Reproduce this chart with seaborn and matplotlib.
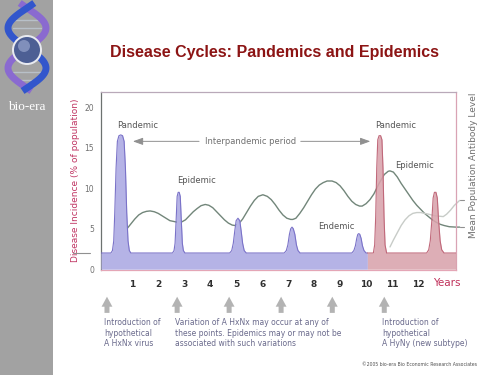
import numpy as np
import matplotlib
matplotlib.use("Agg")
import matplotlib.pyplot as plt
from matplotlib.patches import Rectangle, Circle
import seaborn as sns

# ---- data ----
blue_x = [-0.2, 0.18, 0.24, 0.29, 0.33, 0.38, 0.43, 0.49, 0.56, 0.63, 0.69, 0.74, 0.79, 0.84, 0.89, 0.95,
          2.55, 2.61, 2.65, 2.69, 2.73, 2.77, 2.81, 2.85, 2.89, 2.93, 2.97, 3.03,
          4.75, 4.83, 4.89, 4.95, 5.00, 5.07, 5.14, 5.19, 5.25, 5.31, 5.39,
          6.85, 6.93, 6.99, 7.05, 7.10, 7.15, 7.20, 7.26, 7.32, 7.38, 7.46,
          9.45, 9.53, 9.59, 9.64, 9.68, 9.72, 9.76, 9.81, 9.86, 9.92, 10.0, 10.05]
blue_y = [2.0, 2.0, 2.3, 3.5, 7.0, 12.5, 15.8, 16.5, 16.6, 16.5, 15.8, 12.5, 7.0, 3.5, 2.3, 2.0,
          2.0, 2.3, 3.2, 6.0, 9.0, 9.5, 9.5, 9.0, 6.0, 3.2, 2.3, 2.0,
          2.0, 2.3, 3.2, 4.8, 6.0, 6.3, 6.0, 4.8, 3.2, 2.3, 2.0,
          2.0, 2.3, 3.0, 4.3, 5.0, 5.2, 5.0, 4.3, 3.0, 2.3, 2.0,
          2.0, 2.3, 2.9, 3.8, 4.3, 4.4, 4.3, 3.8, 2.9, 2.3, 2.0, 2.0]

red_x = [10.05, 10.28, 10.33, 10.37, 10.41, 10.45, 10.50, 10.56, 10.61, 10.65, 10.69, 10.73, 10.79,
         12.33, 12.41, 12.47, 12.53, 12.58, 12.63, 12.69, 12.74, 12.79, 12.85, 12.91, 13.0, 13.46]
red_y = [2.0, 2.0, 3.0, 6.5, 12.5, 16.0, 16.5, 16.5, 16.0, 12.5, 6.5, 3.0, 2.0,
         2.0, 2.4, 3.5, 6.0, 8.8, 9.5, 9.5, 8.8, 6.0, 3.5, 2.4, 2.0, 2.0]

# mean antibody level, current subtype (HxNx)
ab_x = [0.80, 0.95, 1.1, 1.25, 1.4, 1.55, 1.69, 1.85, 2.0, 2.15, 2.3, 2.45, 2.6, 2.75, 2.91,
        3.05, 3.2, 3.35, 3.5, 3.65, 3.81, 3.95, 4.1, 4.25, 4.4, 4.55, 4.7, 4.85, 4.96,
        5.1, 5.25, 5.4, 5.55, 5.7, 5.85, 6.03, 6.2, 6.35, 6.5, 6.65, 6.8, 6.95, 7.1, 7.18,
        7.3, 7.45, 7.6, 7.75, 7.9, 8.05, 8.2, 8.35, 8.5, 8.69, 8.85, 9.0, 9.15, 9.3, 9.45,
        9.6, 9.75, 9.85, 10.0, 10.15, 10.3, 10.5, 10.7, 10.85, 10.92, 11.05, 11.2, 11.35,
        11.5, 11.65, 11.8, 11.95, 12.1, 12.25, 12.4, 12.55, 12.7, 12.85, 13.0, 13.2, 13.46, 13.6]
ab_y = [5.0, 5.6, 6.2, 6.7, 7.0, 7.15, 7.2, 7.1, 6.9, 6.6, 6.3, 6.0, 5.9, 5.8, 5.85,
        6.1, 6.6, 7.1, 7.5, 7.85, 8.0, 7.9, 7.6, 7.1, 6.6, 6.1, 5.7, 5.45, 5.4,
        5.6, 6.2, 7.0, 7.8, 8.5, 9.0, 9.2, 9.0, 8.6, 8.0, 7.3, 6.7, 6.3, 6.15, 6.15,
        6.3, 6.9, 7.6, 8.4, 9.2, 9.9, 10.4, 10.7, 10.9, 10.9, 10.7, 10.3, 9.7, 9.0, 8.4,
        8.0, 7.8, 7.8, 8.1, 8.6, 9.3, 10.6, 11.7, 12.1, 12.15, 12.0, 11.4, 10.6,
        9.9, 9.2, 8.5, 7.9, 7.4, 6.9, 6.5, 6.1, 5.8, 5.55, 5.4, 5.25, 5.2, 5.2]

# antibody level, new subtype (HyNy)
new_x = [10.92, 11.05, 11.2, 11.35, 11.5, 11.65, 11.8, 11.95, 12.1, 12.25, 12.4, 12.65,
         12.97, 13.1, 13.25, 13.4, 13.6]
new_y = [2.75, 3.6, 4.5, 5.4, 6.1, 6.6, 6.9, 7.0, 7.0, 6.9, 6.8, 6.6,
         6.5, 6.8, 7.3, 7.9, 8.5]

years = list(range(1, 13))
yticks = [0, 5, 10, 15, 20]
base_level = [2.0]
right_levels = [8.5, 5.2]
arrow_years = [0.03, 2.73, 4.73, 6.73, 8.7, 10.7]

sns.set_theme(style="white")
plt.rcParams["font.family"] = ["DejaVu Sans"]

W, H = 500, 375
fig = plt.figure(figsize=(5, 3.75), dpi=100)
fig.patch.set_facecolor("white")

# left grey sidebar with logo (decoration)
fig.patches.append(Rectangle((0, 0), 53 / W, 1, transform=fig.transFigure,
                             facecolor="#a2a2a2", edgecolor="none", zorder=0))
lg = fig.add_axes([0, 1 - 95 / H, 53 / W, 95 / H])
lg.set_zorder(5)
lg.set_xlim(0, 53)
lg.set_ylim(95, 0)
lg.axis("off")
hy = np.linspace(3, 91, 200)
ph = 2 * np.pi * (hy - 8) / 80
lg.plot(27 + 19 * np.sin(ph), hy, color="#8a6ad0", lw=5, solid_capstyle="butt", zorder=1)
lg.plot(27 - 19 * np.sin(ph), hy, color="#3256cc", lw=5, solid_capstyle="butt", zorder=2)
for yy in [20, 28, 72, 80]:
    lg.plot([13, 41], [yy, yy], color="#b8c0c8", lw=1, zorder=0)
lg.add_patch(Circle((27, 50), 15, facecolor="#e8eaf0", edgecolor="none", zorder=3))
lg.add_patch(Circle((27, 50), 13, facecolor="#4d5f94", edgecolor="none", zorder=4))
lg.add_patch(Circle((24, 46), 6, facecolor="#8e9cc6", edgecolor="none", zorder=5, alpha=0.8))
fig.text(27 / W, 1 - 107 / H, "bio-era", family="Liberation Serif", color="white",
         fontsize=9.5, ha="center", va="center")

# title
fig.text(274 / W, 1 - 53 / H, "Disease Cycles: Pandemics and Epidemics", family="Liberation Sans",
         fontweight="bold", color="#8c1414", fontsize=11.5, ha="center", va="center")

# main axes
ax = fig.add_axes([101 / W, 1 - 270 / H, 355 / W, 178 / H])
ax.set_xlim(-0.2, 13.46)
ax.set_ylim(-0.1, 21.9)

sns.lineplot(x=ab_x, y=ab_y, ax=ax, color="#72867a", lw=1.0, sort=False, estimator=None, zorder=2)
sns.lineplot(x=new_x, y=new_y, ax=ax, color="#c8ccc8", lw=1.0, sort=False, estimator=None, zorder=2)
for ln in ax.lines:
    ln.set_clip_on(False)

ax.fill_between(blue_x, 0, blue_y, color="#b5b3e6", zorder=3, lw=0)
sns.lineplot(x=blue_x, y=blue_y, ax=ax, color="#7a72c8", lw=0.8, sort=False, estimator=None, zorder=4)
ax.fill_between(red_x, 0, red_y, color="#d9a3ac", zorder=3, lw=0, alpha=0.88)
sns.lineplot(x=red_x, y=red_y, ax=ax, color="#c0687a", lw=0.8, sort=False, estimator=None, zorder=4)

# level dashes outside the frame
for lv in base_level:
    ax.plot([-0.08, -0.03], [lv, lv], transform=ax.get_yaxis_transform(), color="#909090",
            lw=0.8, clip_on=False)
for lv in right_levels:
    ax.plot([1.012, 1.022], [lv, lv], transform=ax.get_yaxis_transform(), color="#909090",
            lw=0.8, clip_on=False)

for s, c in {"left": "#6d7270", "top": "#b9a9b9", "right": "#d9a3b4", "bottom": "#e4a6b6"}.items():
    ax.spines[s].set_color(c)
    ax.spines[s].set_linewidth(0.9)

ax.set_yticks(yticks)
ax.set_yticklabels([str(v) for v in yticks], fontsize=5.5, color="#707070")
ax.set_xticks(years)
ax.set_xticklabels([str(v) for v in years], fontsize=6.5, fontweight="bold", color="#303030")
ax.tick_params(length=0, pad=7)
ax.tick_params(axis="y", pad=5)
ax.set_xlabel("")
ax.set_ylabel("")
ax.text(13.1, -1.05, "Years", fontsize=7.5, color="#c0305a", ha="center", va="top", clip_on=False)

# annotations on the curves
lab = dict(fontsize=6, color="#555555")
ax.text(0.42, 17.8, "Pandemic", ha="left", va="center", **lab)
ax.text(2.73, 11.0, "Epidemic", ha="left", va="center", **lab)
ax.text(11.15, 17.8, "Pandemic", ha="center", va="center", **lab)
ax.text(11.88, 12.8, "Epidemic", ha="center", va="center", **lab)
ax.text(8.87, 5.3, "Endemic", ha="center", va="center", **lab)
ax.text(5.54, 15.8, "Interpandemic period", ha="center", va="center", fontsize=6, color="#707070")
arr = dict(arrowstyle="-|>,head_length=0.5,head_width=0.18", color="#909090", lw=0.7)
ax.annotate("", xy=(0.92, 15.8), xytext=(3.68, 15.8), arrowprops=arr)
ax.annotate("", xy=(10.27, 15.8), xytext=(7.38, 15.8), arrowprops=arr)

# Y axis titles
fig.text(75 / W, 1 - 180 / H, "Disease Incidence (% of population)", rotation=90, fontsize=6.5,
         color="#c03563", ha="center", va="center")
fig.text(473 / W, 1 - 165 / H, "Mean Population Antibody Level", rotation=90, fontsize=6.5,
         color="#707070", ha="center", va="center")

# arrows under the time axis
up = dict(arrowstyle="simple,head_length=0.6,head_width=0.65,tail_width=0.3",
          color="#b3b3b3", lw=0, shrinkA=0, shrinkB=0)
for xv in arrow_years:
    ax.annotate("", xy=(xv, -3.4), xytext=(xv, -5.4), arrowprops=up, annotation_clip=False)

note = dict(fontsize=5.5, color="#6a6a8c", va="top", ha="left", linespacing=1.25)
fig.text(104 / W, 1 - 318 / H, "Introduction of\nhypothetical\nA HxNx virus", **note)
fig.text(175 / W, 1 - 318 / H, "Variation of A HxNx may occur at any of\n"
         "these points. Epidemics may or may not be\nassociated with such variations", **note)
fig.text(382 / W, 1 - 318 / H, "Introduction of\nhypothetical\nA HyNy (new subtype)", **note)
fig.text(477 / W, 1 - 364 / H, "\u00a92005 bio-era Bio Economic Research Associates",
         fontsize=3.3, color="#505050", ha="right", va="center")

fig.savefig("out.png", dpi=100)
